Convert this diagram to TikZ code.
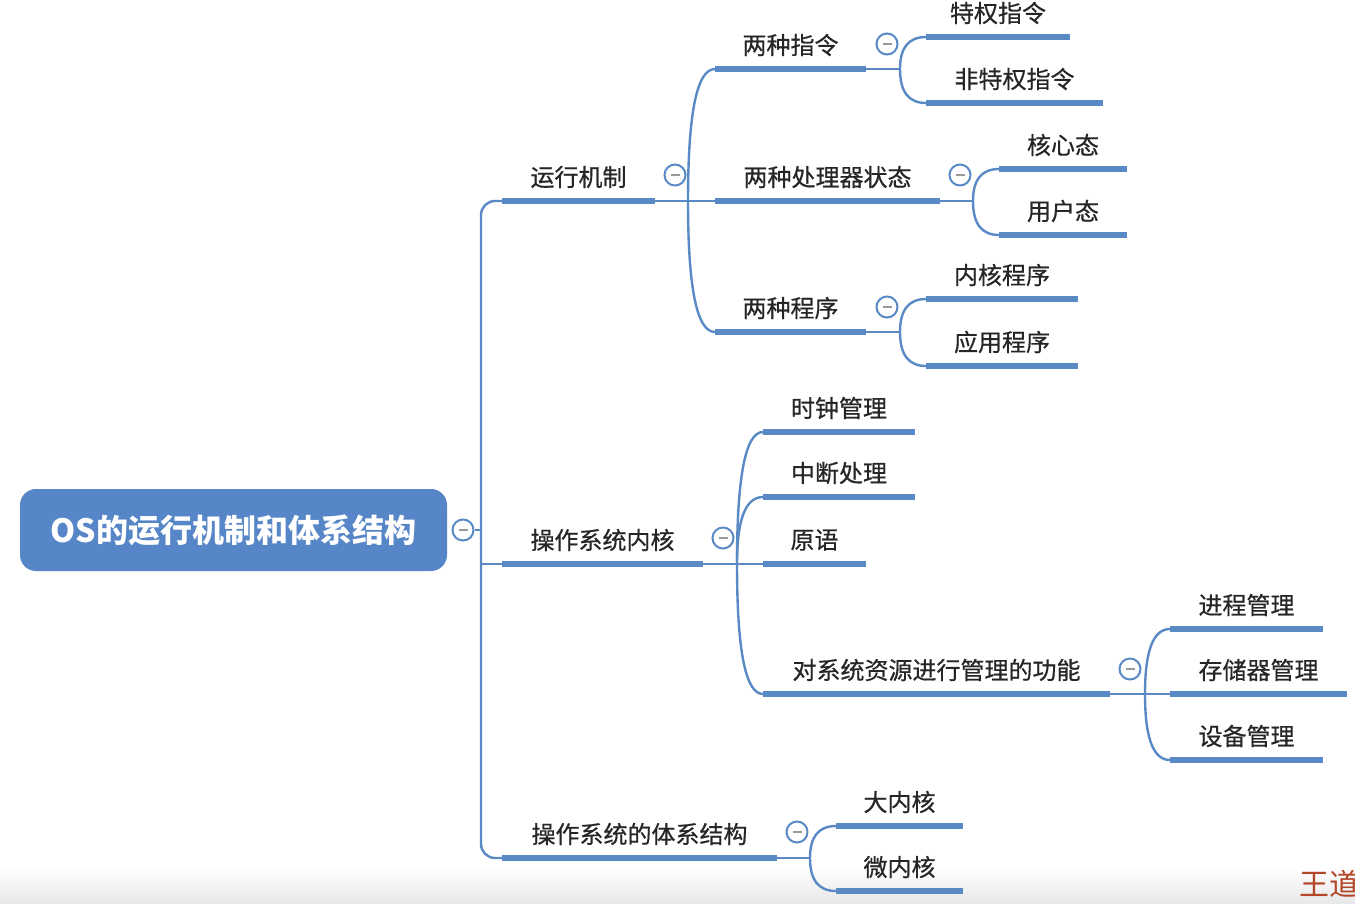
\documentclass[tikz,border=0pt]{standalone}
\usepackage{fontspec}
\usetikzlibrary{calc}
\newfontfamily\cjk[FakeBold=0.6]{Noto Sans CJK SC}
\newfontfamily\cjkroot{Noto Sans CJK SC}
\definecolor{lb}{HTML}{5A8AC6}
\definecolor{rootblue}{HTML}{5686C7}
\definecolor{txt}{HTML}{262626}
\definecolor{wdred}{HTML}{B4472A}
\tikzset{
  lbl/.style={font=\cjk\fontsize{24}{28}\selectfont, text=txt, inner sep=0pt},
  uline/.style={draw=lb, line width=6pt},
  conn/.style={draw=lb, line width=2.4pt},
  fold/.style={circle, draw=lb, line width=2pt, fill=white, minimum size=21pt, inner sep=0pt,
    path picture={\draw[gray!80, line width=1.6pt] ([xshift=-4.5pt]path picture bounding box.center) -- ([xshift=4.5pt]path picture bounding box.center);}},
  rootbox/.style={fill=rootblue, rounded corners=16pt, minimum width=427pt, minimum height=82pt,
    text=white, font=\cjkroot\bfseries\fontsize{32}{36}\selectfont, inner sep=0pt}
}
\newcommand\mmbranch[5]{%
  \coordinate (#1s) at (#2,#4);
  \coordinate (#1e) at (#3,#4);
  \draw[uline] (#1s) -- (#1e);
  \node[lbl] (#1t) at ({(#2+#3)/2},{#4-24}) {#5};}
\newcommand\mmcurve[2]{\draw[conn] (#1) .. controls ($(#1)!0.67!(#1 |- #2)$) and ($(#2)!0.67!(#1 |- #2)$) .. (#2);}
\begin{document}
\begin{tikzpicture}[x=1pt,y=-1pt]
\useasboundingbox (0,0) rectangle (1355,903);
\fill[white] (0,0) rectangle (1355,903);
\begin{scope}
\clip (0,0) rectangle (1355,903);
\shade[top color=white, bottom color=black!9] (0,866) rectangle (1355,903);
\node[anchor=west, text=wdred, font=\cjkroot\fontsize{30}{36}\selectfont, inner sep=0pt] (wd) at (1299,884) {王道};
\end{scope}

% root
\node[rootbox] (root) at (233.5,530) {OS的运行机制和体系结构};
\coordinate (tj) at (481,530);

% level 1
\mmbranch{ra}{502}{655}{201}{运行机制}
\mmbranch{kb}{502}{703}{564}{操作系统内核}
\mmbranch{ar}{502}{777}{858}{操作系统的体系结构}

\draw[conn, rounded corners=14pt] (ras) -- (ras -| tj) -- (ars -| tj) -- (ars);
\draw[conn] (kbs -| tj) -- (kbs);
\node[fold] (rootf) at (463,530) {};
\draw[conn] (rootf.east) -- (tj);

% 运行机制
\coordinate (raj) at (688,201);
\mmbranch{raa}{715}{866}{69}{两种指令}
\mmbranch{rab}{715}{940}{201}{两种处理器状态}
\mmbranch{rac}{715}{866}{332}{两种程序}
\draw[conn] (rae) -- (rabs);
\mmcurve{raj}{raas}
\mmcurve{raj}{racs}
\node[fold] (raf) at (675,175) {};

% 两种指令
\coordinate (raaj) at (900,69);
\mmbranch{raaa}{926}{1070}{37}{特权指令}
\mmbranch{raab}{926}{1103}{103}{非特权指令}
\draw[conn] (raae) -- (raaj);
\mmcurve{raaj}{raaas}
\mmcurve{raaj}{raabs}
\node[fold] (raaf) at (887,44) {};

% 两种处理器状态
\coordinate (rabj) at (973,201);
\mmbranch{raba}{999}{1127}{169}{核心态}
\mmbranch{rabb}{999}{1127}{235}{用户态}
\draw[conn] (rabe) -- (rabj);
\mmcurve{rabj}{rabas}
\mmcurve{rabj}{rabbs}
\node[fold] (rabf) at (960,175) {};

% 两种程序
\coordinate (racj) at (900,332);
\mmbranch{raca}{926}{1078}{299}{内核程序}
\mmbranch{racb}{926}{1078}{366}{应用程序}
\draw[conn] (race) -- (racj);
\mmcurve{racj}{racas}
\mmcurve{racj}{racbs}
\node[fold] (racf) at (887,307) {};

% 操作系统内核
\coordinate (kbj) at (737,564);
\mmbranch{kba}{763}{915}{432}{时钟管理}
\mmbranch{kbb}{763}{915}{497}{中断处理}
\mmbranch{kbc}{763}{866}{564}{原语}
\mmbranch{kbd}{763}{1110}{694}{对系统资源进行管理的功能}
\draw[conn] (kbe) -- (kbcs);
\mmcurve{kbj}{kbas}
\mmcurve{kbj}{kbbs}
\mmcurve{kbj}{kbds}
\node[fold] (kbf) at (723,538) {};

% 对系统资源进行管理的功能
\coordinate (kbdj) at (1145,694);
\mmbranch{kbda}{1170}{1323}{629}{进程管理}
\mmbranch{kbdb}{1170}{1347}{694}{存储器管理}
\mmbranch{kbdc}{1170}{1323}{760}{设备管理}
\draw[conn] (kbde) -- (kbdbs);
\mmcurve{kbdj}{kbdas}
\mmcurve{kbdj}{kbdcs}
\node[fold] (kbdf) at (1130,669) {};

% 操作系统的体系结构
\coordinate (arj) at (810,858);
\mmbranch{ara}{836}{963}{826}{大内核}
\mmbranch{arb}{836}{963}{891}{微内核}
\draw[conn] (are) -- (arj);
\mmcurve{arj}{aras}
\mmcurve{arj}{arbs}
\node[fold] (arf) at (797,832) {};
\end{tikzpicture}
\end{document}
